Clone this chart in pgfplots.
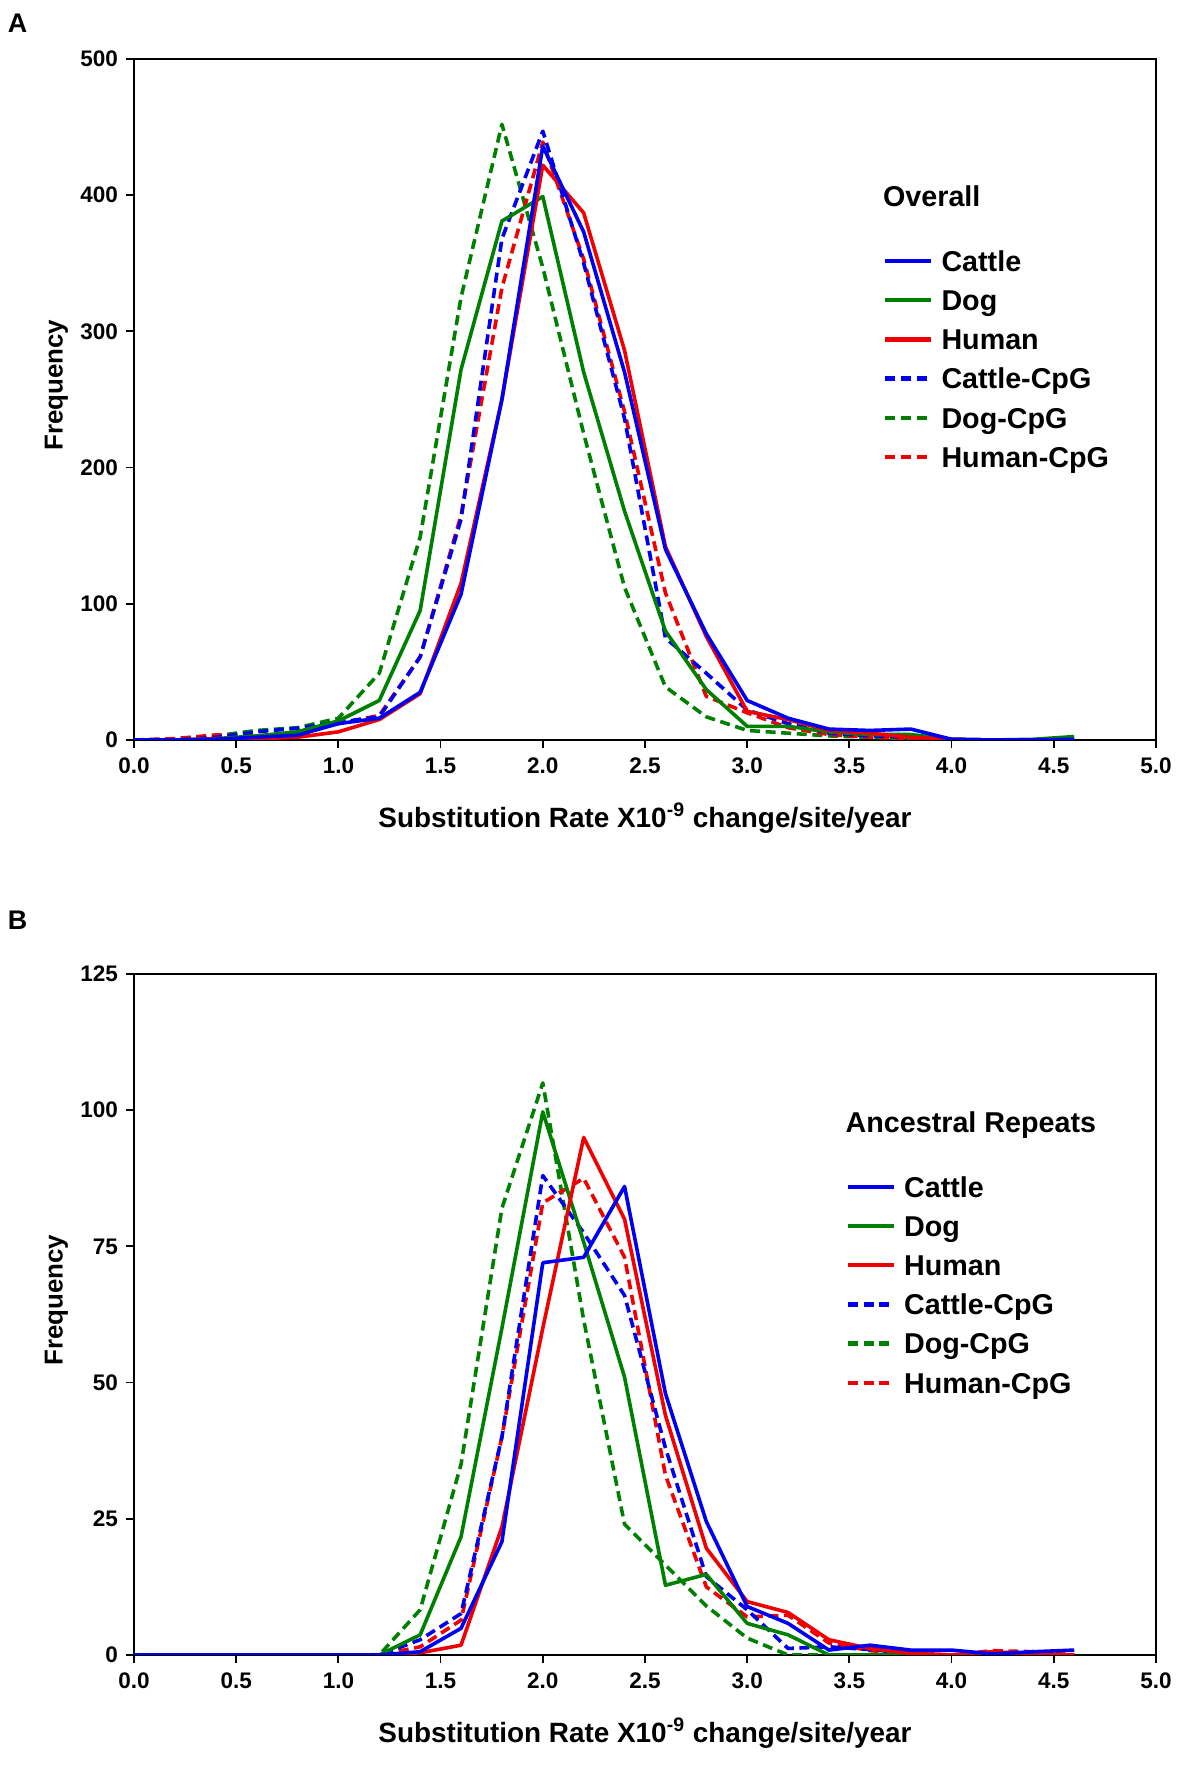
\documentclass[border=0pt]{standalone}
\usepackage{pgfplots}
\pgfplotsset{compat=1.18}
\usepackage{pgfplotstable}
\usepackage{fontspec}
\setmainfont{Liberation Sans}

\definecolor{cblue}{RGB}{0,0,240}
\definecolor{cgreen}{RGB}{0,128,0}
\definecolor{cred}{RGB}{240,0,0}

\pgfplotstableread{
x   cattle dog human cattlecpg dogcpg humancpg
0.0 0    0    0    0    0    0
0.2 0    0    0    0    0.5  1
0.4 0.5  1    1    2    3    3.7
0.6 2    3    1    6    7    3
0.8 3.5  6    2    8.6  9    5
1.0 12   14   6    13   16   12
1.2 16   29   15   17   49   18
1.4 35   95   34   61   149  61
1.6 107  272  115  162  325  165
1.8 250  381  250  368  452  332
2.0 436  399  422  447  347  439
2.2 373  270  387  350  225  353
2.4 270  168  286  236  112  241
2.6 140  80   142  75   39   108
2.8 78   37   76   49   17   32
3.0 29   10   21   22   7    20
3.2 16   10   15   12   5    9
3.4 8    6    7    5    3    4
3.6 7    4    5    3    2    2
3.8 8    4    2    2    1    1
4.0 0.5  0.5  0.5  0.5  0    0
4.2 0    0    0    0    0    0
4.4 0    0.5  0    0    0    0
4.6 0.5  2.5  0    0    0    0
}\overall

\pgfplotstableread{
x   cattle dog human cattlecpg dogcpg humancpg
0.0 0    0    0    0    0    0
0.2 0    0    0    0    0    0
0.4 0    0    0    0    0    0
0.6 0    0    0    0    0    0
0.8 0    0    0    0    0    0
1.0 0    0    0    0    0    0
1.2 0    0    0    0    0    0
1.4 0.6  3.7  0.4  2.8  8.3  1.5
1.6 4.9  21.7 1.8  7.6  35   6.4
1.8 20.8 60   23.5 40   82   40
2.0 72   99.7 60   88   105  83
2.2 73   75.8 95   77.5 61.5 87.5
2.4 86   51   80   66   24   73
2.6 48   12.8 44   38   16.5 33
2.8 24.5 14.8 19.6 14.4 9    12.5
3.0 8.9  5.8  9.8  8.3  3.1  7
3.2 5.8  3.7  7.8  1.2  0    7.3
3.4 0.9  0    2.8  1.5  0    2.2
3.6 1.8  0    1.2  1    0    0.8
3.8 0.9  0    0.3  0.3  0    0.3
4.0 0.9  0    0    0    0    0
4.2 0.2  0    0.6  0    0    0.8
4.4 0.6  0    0.2  0    0    0.6
4.6 0.9  0    0    0    0    0
}\repeats

\pgfplotsset{
  panel/.style={
    scale only axis, width=511bp, height=340.5bp,
    xmin=0, xmax=5,
    xtick={0,0.5,1,1.5,2,2.5,3,3.5,4,4.5,5},
    xticklabels={0.0,0.5,1.0,1.5,2.0,2.5,3.0,3.5,4.0,4.5,5.0},
    axis line style={line width=1bp, black},
    tick align=outside, tick pos=left, major tick length=4bp,
    tick style={line width=0.9bp, black},
    ticklabel style={font=\fontsize{11.3}{13}\selectfont\bfseries},
    xticklabel style={yshift=-1.5bp},
    yticklabel style={xshift=-0.5bp},
    xlabel={Substitution Rate X10\textsuperscript{-9} change/site/year},
    ylabel={Frequency},
    xlabel style={at={(axis description cs:0.5,-0.1145)}, anchor=center,
      font=\fontsize{14}{16}\selectfont\bfseries},
    ylabel style={at={(axis description cs:-0.0759,0.521)}, anchor=center,
      font=\fontsize{13}{15}\selectfont\bfseries},
    legend cell align=left,
    legend style={draw=none, fill=none, inner sep=0pt, row sep=0pt,
      column sep=4bp, anchor=north west,
      font=\fontsize{14.4}{17}\selectfont\bfseries,
      nodes={inner sep=0pt, text height=14.95bp, text depth=4.65bp}},
    legend image code/.code={\draw[#1] (0bp,0bp) -- (23bp,0bp);},
  },
  sl/.style={line width=1.8bp, line join=round},
  dl/.style={line width=1.8bp, line join=round, dash pattern=on 5bp off 2.8bp},
}

\begin{document}
\begin{tikzpicture}
\useasboundingbox (0,0) rectangle (600bp,888.5bp);
\node[font=\fontsize{13.5}{15}\selectfont\bfseries, inner sep=0pt] at (8.8bp,877bp) {A};
\node[font=\fontsize{13.5}{15}\selectfont\bfseries, inner sep=0pt] at (8.8bp,428.3bp) {B};

\begin{axis}[panel, at={(67bp,518.5bp)}, anchor=south west,
  ymin=0, ymax=500, ytick={0,100,200,300,400,500},
  yticklabels={0,100,200,300,400,500},
  legend style={at={(axis description cs:0.7326,0.7327)}}]
  \addplot[cgreen, dl, forget plot] table[x=x,y=dogcpg]{\overall};
  \addplot[cred, dl, forget plot] table[x=x,y=humancpg]{\overall};
  \addplot[cblue, dl, forget plot] table[x=x,y=cattlecpg]{\overall};
  \addplot[cgreen, sl, forget plot] table[x=x,y=dog]{\overall};
  \addplot[cred, sl, forget plot] table[x=x,y=human]{\overall};
  \addplot[cblue, sl, forget plot] table[x=x,y=cattle]{\overall};
  \addlegendimage{cblue, sl, line width=2.2bp}\addlegendentry{Cattle}
  \addlegendimage{cgreen, sl, line width=2.2bp}\addlegendentry{Dog}
  \addlegendimage{cred, sl, line width=2.2bp}\addlegendentry{Human}
  \addlegendimage{cblue, dl, line width=2.2bp}\addlegendentry{Cattle-CpG}
  \addlegendimage{cgreen, dl, line width=2.2bp}\addlegendentry{Dog-CpG}
  \addlegendimage{cred, dl, line width=2.2bp}\addlegendentry{Human-CpG}
  \node[anchor=west, inner sep=0pt, font=\fontsize{14.4}{17}\selectfont\bfseries]
    at (axis description cs:0.7326,0.7988) {Overall};
\end{axis}

\begin{axis}[panel, at={(67bp,61bp)}, anchor=south west,
  ymin=0, ymax=125, ytick={0,25,50,75,100,125},
  yticklabels={0,25,50,75,100,125},
  legend style={at={(axis description cs:0.696,0.7169)}}]
  \addplot[cgreen, dl, forget plot] table[x=x,y=dogcpg]{\repeats};
  \addplot[cred, dl, forget plot] table[x=x,y=humancpg]{\repeats};
  \addplot[cblue, dl, forget plot] table[x=x,y=cattlecpg]{\repeats};
  \addplot[cgreen, sl, forget plot] table[x=x,y=dog]{\repeats};
  \addplot[cred, sl, forget plot] table[x=x,y=human]{\repeats};
  \addplot[cblue, sl, forget plot] table[x=x,y=cattle]{\repeats};
  \addlegendimage{cblue, sl, line width=2.2bp}\addlegendentry{Cattle}
  \addlegendimage{cgreen, sl, line width=2.2bp}\addlegendentry{Dog}
  \addlegendimage{cred, sl, line width=2.2bp}\addlegendentry{Human}
  \addlegendimage{cblue, dl, line width=2.2bp}\addlegendentry{Cattle-CpG}
  \addlegendimage{cgreen, dl, line width=2.2bp}\addlegendentry{Dog-CpG}
  \addlegendimage{cred, dl, line width=2.2bp}\addlegendentry{Human-CpG}
  \node[anchor=west, inner sep=0pt, font=\fontsize{14.4}{17}\selectfont\bfseries]
    at (axis description cs:0.696,0.7783) {Ancestral Repeats};
\end{axis}
\end{tikzpicture}
\end{document}
